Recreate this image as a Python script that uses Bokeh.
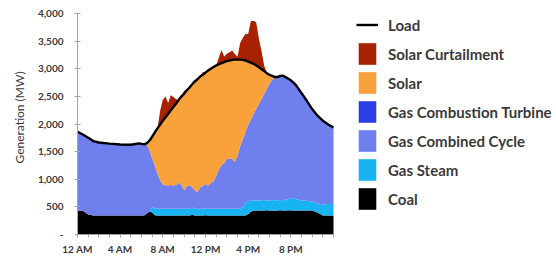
import numpy as np
from bokeh.plotting import figure
from bokeh.models import Range1d, FixedTicker, Legend, LegendItem
from bokeh.embed import file_html
from bokeh.resources import INLINE

# ---- data (hour of day, MW) ----
hours = [0, 0.5, 1, 1.5, 2, 3, 4, 5, 5.75, 6.25, 6.5, 6.75,
         7.0, 7.25, 7.5, 7.75, 8.0, 8.25, 8.5, 8.75, 9.0, 9.25, 9.5, 9.75,
         10.0, 10.25, 10.5, 10.75, 11.0, 11.25, 11.5, 11.75, 12.0, 12.25, 12.5, 12.75,
         13.0, 13.25, 13.5, 13.75, 14.0, 14.25, 14.5, 14.75, 15.0, 15.25, 15.5, 15.75,
         16.0, 16.25, 16.5, 16.75, 17.0, 17.25, 17.5, 17.75, 18.0, 18.25, 18.5, 18.75,
         19.0, 19.25, 19.5, 20.0, 20.25, 20.5, 21.0, 21.5, 22.0, 22.5, 23.0, 23.5, 24.0]

load = [1860, 1810, 1750, 1690, 1665, 1645, 1630, 1625, 1650, 1630, 1655, 1700,
        1770, 1850, 1920, 1990, 2060, 2120, 2180, 2250, 2310, 2370, 2440, 2500,
        2550, 2610, 2660, 2720, 2770, 2810, 2860, 2890, 2930, 2970, 3000, 3030,
        3060, 3080, 3100, 3120, 3140, 3150, 3160, 3165, 3165, 3165, 3160, 3150,
        3130, 3110, 3090, 3060, 3030, 2990, 2960, 2920, 2890, 2870, 2850, 2850,
        2870, 2875, 2850, 2790, 2750, 2700, 2560, 2420, 2270, 2150, 2060, 1990, 1940]

coal = [430, 430, 360, 345, 345, 345, 345, 345, 345, 345, 380, 415,
        400, 350, 345, 345, 345, 345, 345, 345, 345, 345, 345, 345,
        345, 345, 345, 355, 345, 345, 345, 345, 350, 345, 345, 345,
        345, 345, 345, 345, 345, 345, 345, 345, 345, 345, 345, 345,
        370, 410, 430, 435, 435, 435, 435, 440, 435, 435, 430, 435,
        440, 435, 435, 440, 435, 435, 435, 435, 435, 400, 345, 345, 345]

gas_steam = [0, 0, 0, 0, 0, 0, 0, 0, 0, 0, 0, 0,
             100, 125, 120, 120, 120, 120, 120, 120, 120, 120, 120, 120,
             120, 120, 120, 135, 120, 120, 120, 120, 120, 120, 120, 120,
             120, 120, 120, 120, 120, 120, 120, 120, 120, 120, 155, 215,
             230, 205, 190, 175, 180, 185, 190, 175, 175, 190, 190, 180,
             185, 185, 195, 210, 230, 205, 180, 175, 160, 160, 200, 205, 205]

gas_cc = [1430, 1380, 1390, 1345, 1320, 1300, 1285, 1280, 1305, 1285, 1240, 1105,
          880, 775, 635, 515, 425, 405, 405, 410, 405, 415, 480, 425,
          335, 415, 425, 365, 335, 300, 390, 415, 445, 420, 465, 495,
          595, 715, 795, 825, 905, 905, 905, 845, 955, 1135, 1220, 1300,
          1380, 1465, 1560, 1660, 1745, 1830, 1920, 2025, 2120, 2175, 2230, 2235,
          2245, 2255, 2220, 2140, 2085, 2060, 1945, 1810, 1675, 1590, 1515, 1440, 1390]

gas_ct = [0, 0, 0, 0, 0, 0, 0, 0, 0, 0, 0, 0,
          0, 0, 0, 0, 10, 15, 15, 15, 15, 10, 0, 0,
          0, 0, 0, 0, 0, 0, 0, 0, 0, 0, 0, 0,
          0, 0, 0, 0, 0, 0, 0, 0, 0, 0, 0, 0,
          0, 0, 0, 0, 0, 0, 0, 0, 0, 0, 0, 0,
          0, 0, 0, 0, 0, 0, 0, 0, 0, 0, 0, 0, 0]

solar = [0, 0, 0, 0, 0, 0, 0, 0, 0, 0, 35, 180,
         390, 600, 820, 1010, 1160, 1235, 1295, 1360, 1425, 1480, 1495, 1610,
         1750, 1730, 1770, 1865, 1970, 2045, 2005, 2010, 2015, 2085, 2070, 2070,
         2000, 1900, 1840, 1830, 1770, 1780, 1790, 1855, 1745, 1565, 1440, 1290,
         1150, 1030, 910, 790, 670, 540, 415, 280, 160, 70, 0, 0,
         0, 0, 0, 0, 0, 0, 0, 0, 0, 0, 0, 0, 0]

curtailment = [0, 0, 0, 0, 0, 0, 0, 0, 0, 0, 0, 0,
               0, 0, 0, 250, 380, 380, 200, 270, 180, 80, 0, 0,
               50, 0, 0, 0, 0, 0, 0, 50, 0, 0, 0, 0,
               0, 120, 240, 100, 130, 150, 170, 100, 50, 300, 400, 480,
               500, 750, 780, 780, 520, 330, 100, 0, 0, 0, 0, 0,
               0, 0, 0, 0, 0, 0, 0, 0, 0, 0, 0, 0, 0]

x_ticks = [0, 4, 8, 12, 16, 20]
x_labels = ["12 AM", "4 AM", "8 AM", "12 PM", "4 PM", "8 PM"]
y_ticks = [0, 500, 1000, 1500, 2000, 2500, 3000, 3500, 4000]
y_labels = ["-", "500", "1,000", "1,500", "2,000", "2,500", "3,000", "3,500", "4,000"]

series = [("Coal", coal, "#000000"),
          ("Gas Steam", gas_steam, "#17B3F3"),
          ("Gas Combined Cycle", gas_cc, "#6F7FEE"),
          ("Gas Combustion Turbine", gas_ct, "#2A40E6"),
          ("Solar", solar, "#F9A13A"),
          ("Solar Curtailment", curtailment, "#A82100")]

# frame spans the legend area too; axes are bounded to the data span
W, H = 556, 257
left, bottom = 77, 23
x_px = 256.0      # pixels covered by 0..24 h
y_px = 221.0      # pixels covered by 0..4000 MW
frame_w = W - left
frame_h = H - bottom
x_end = 24.0 * frame_w / x_px
y_end = 4000.0 * frame_h / y_px

p = figure(width=W, height=H, output_backend="svg", toolbar_location=None,
           x_range=Range1d(0, x_end), y_range=Range1d(0, y_end),
           min_border_left=left, min_border_right=0, min_border_top=0,
           min_border_bottom=bottom)
p.outline_line_color = None
p.grid.visible = False

x = np.array(hours, dtype=float)
base = np.zeros(len(hours))
rends = {}
for name, vals, color in series:
    top = base + np.array(vals, dtype=float)
    rends[name] = p.varea(x=x, y1=base, y2=top, fill_color=color)
    base = top

rends["Load"] = p.line(x, np.array(load, dtype=float), line_color="black", line_width=2.4)

axis_col = "#A6A6A6"
txt_col = "#3A3A3A"
xa = p.xaxis[0]
xa.bounds = (0, 24)
xa.ticker = FixedTicker(ticks=x_ticks, minor_ticks=list(range(0, 25)))
xa.major_label_overrides = {t: l for t, l in zip(x_ticks, x_labels)}
xa.axis_line_color = axis_col
xa.major_tick_line_color = axis_col
xa.minor_tick_line_color = axis_col
xa.major_tick_in = 0
xa.major_tick_out = 3
xa.minor_tick_in = 0
xa.minor_tick_out = 3
xa.major_label_standoff = 5
xa.major_label_text_font = "Lato"
xa.major_label_text_font_style = "bold"
xa.major_label_text_font_size = "10px"
xa.major_label_text_color = txt_col

ya = p.yaxis[0]
ya.bounds = (0, 4000)
ya.ticker = FixedTicker(ticks=y_ticks)
ya.major_label_overrides = {t: l for t, l in zip(y_ticks, y_labels)}
ya.axis_line_color = axis_col
ya.major_tick_line_color = axis_col
ya.minor_tick_line_color = None
ya.major_tick_in = 3
ya.major_tick_out = 3
ya.major_label_standoff = 11
ya.major_label_text_font = "Lato"
ya.major_label_text_font_style = "bold"
ya.major_label_text_font_size = "10px"
ya.major_label_text_color = txt_col
ya.axis_label = "Generation (MW)"
ya.axis_label_text_font = "Lato"
ya.axis_label_text_font_style = "normal"
ya.axis_label_text_font_size = "12px"
ya.axis_label_text_color = txt_col
ya.axis_label_standoff = 8

order = ["Load", "Solar Curtailment", "Solar", "Gas Combustion Turbine",
         "Gas Combined Cycle", "Gas Steam", "Coal"]
legend = Legend(items=[LegendItem(label=n, renderers=[rends[n]]) for n in order],
                location=(279, 22), orientation="vertical",
                glyph_width=22, glyph_height=27, label_height=27, spacing=2,
                padding=0, margin=0, label_standoff=10,
                border_line_color=None, background_fill_alpha=0,
                label_text_font="Lato", label_text_font_style="bold",
                label_text_font_size="15px", label_text_color=txt_col)
p.add_layout(legend)

open("out.html", "w").write(file_html(p, INLINE))
